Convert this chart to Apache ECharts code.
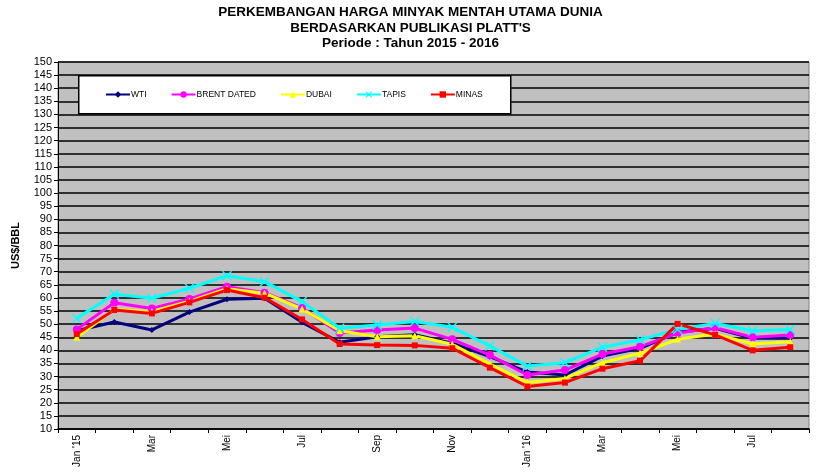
<!DOCTYPE html>
<html>
<head>
<meta charset="utf-8">
<script src="https://cdn.jsdelivr.net/npm/echarts@6/dist/echarts.min.js"></script>
<style>
html,body{margin:0;padding:0;background:#fff;}
#chart{width:821px;height:474px;}
</style>
</head>
<body>
<div id="chart"></div>
<script>
const titleLines = ["PERKEMBANGAN HARGA MINYAK MENTAH UTAMA DUNIA","BERDASARKAN PUBLIKASI PLATT'S","Periode : Tahun 2015 - 2016"];
const months = ["2015-01","2015-02","2015-03","2015-04","2015-05","2015-06","2015-07","2015-08","2015-09","2015-10","2015-11","2015-12","2016-01","2016-02","2016-03","2016-04","2016-05","2016-06","2016-07","2016-08"];
const xLabels = ["Jan '15","Feb","Mar","Apr","Mei","Jun","Jul","Agt","Sep","Okt","Nov","Des","Jan '16","Feb","Mar","Apr","Mei","Jun","Jul","Agt"];
const wti   = [47.5,50.8,47.8,54.6,59.5,59.9,50.7,43.1,45.2,46.0,42.7,37.6,31.7,30.6,37.8,40.8,46.9,48.4,44.6,44.6];
const brent = [48.0,58.2,56.0,59.6,64.3,62.0,56.2,46.6,47.8,48.5,44.2,38.2,30.6,32.5,38.6,41.4,46.6,48.6,45.0,45.9];
const dubai = [45.0,55.6,54.8,58.8,63.5,61.8,55.8,47.5,45.2,45.6,42.3,34.8,27.7,29.3,35.3,38.9,44.2,46.2,42.4,43.3];
const tapis = [52.2,61.4,59.9,63.7,68.5,66.2,58.6,48.4,49.7,51.0,48.8,41.7,34.0,35.3,41.2,44.0,48.0,50.3,47.5,48.0];
const minas = [46.2,55.4,54.1,58.3,63.0,60.1,51.8,42.4,42.0,41.9,40.8,33.4,26.2,27.7,33.0,36.0,50.1,45.9,40.0,41.2];
const yTicks = {min:10, max:150, step:5};

const chart = echarts.init(document.getElementById('chart'), null, {renderer:'canvas'});
const xPath = 'path://M0,1L1,0L5,4L9,0L10,1L6,5L10,9L9,10L5,6L1,10L0,9L4,5Z';
function mk(name, data, color, symbol, size){
  return {
    name, type:'line', data, symbol, symbolSize:size, showSymbol:true,
    lineStyle:{color, width:3}, itemStyle:{color, borderColor:color, borderWidth:0},
    emphasis:{disabled:true}, animation:false
  };
}
const titleTops = [5.5, 21, 36];
chart.setOption({
  animation:false,
  backgroundColor:'#ffffff',
  title: titleLines.map((t, i) => ({
    text:t, left:'center', top:titleTops[i], padding:0,
    textStyle:{fontFamily:'Liberation Sans', fontSize:13.5, fontWeight:'bold', color:'#000'}
  })),
  graphic:[{
    type:'rect', left:78, top:75, shape:{width:432, height:38},
    style:{fill:'#ffffff', stroke:'#000', lineWidth:1.5}, z:5
  }],
  legend:{
    left:100, top:85, itemWidth:24, itemHeight:8, itemGap:24,
    textStyle:{fontFamily:'Liberation Sans', fontSize:8.5, color:'#000', padding:[0,0,0,-4]},
    data:['WTI','BRENT DATED','DUBAI','TAPIS','MINAS'], z:10
  },
  grid:{left:58, right:12, top:62, bottom:45, show:true, backgroundColor:'#C0C0C0', borderColor:'#808080', borderWidth:1},
  xAxis:{
    type:'category', data:months, boundaryGap:true,
    axisLine:{lineStyle:{color:'#000', width:1.5}},
    axisTick:{show:true, interval:0, length:4, lineStyle:{color:'#000'}},
    axisLabel:{interval:1, rotate:90, fontFamily:'Liberation Sans', fontSize:10, color:'#000', margin:6,
      formatter:(v, i) => xLabels[i]}
  },
  yAxis:{
    type:'value', min:yTicks.min, max:yTicks.max, interval:yTicks.step,
    name:'US$/BBL', nameLocation:'middle', nameGap:37, nameRotate:90,
    nameTextStyle:{fontFamily:'Liberation Sans', fontSize:11, fontWeight:'bold', color:'#000'},
    axisLine:{show:true, lineStyle:{color:'#000', width:1}},
    axisTick:{show:true, length:4, lineStyle:{color:'#000'}},
    axisLabel:{fontFamily:'Liberation Sans', fontSize:11, color:'#000', margin:6},
    splitLine:{show:true, lineStyle:{color:'#000', width:1.5}}
  },
  series:[
    mk('WTI', wti, '#000080', 'diamond', 6),
    mk('BRENT DATED', brent, '#FF00FF', 'circle', 8),
    mk('DUBAI', dubai, '#FFFF00', 'triangle', 7),
    mk('TAPIS', tapis, '#00FFFF', xPath, 10),
    mk('MINAS', minas, '#FF0000', 'rect', 6)
  ]
});
</script>
</body>
</html>
